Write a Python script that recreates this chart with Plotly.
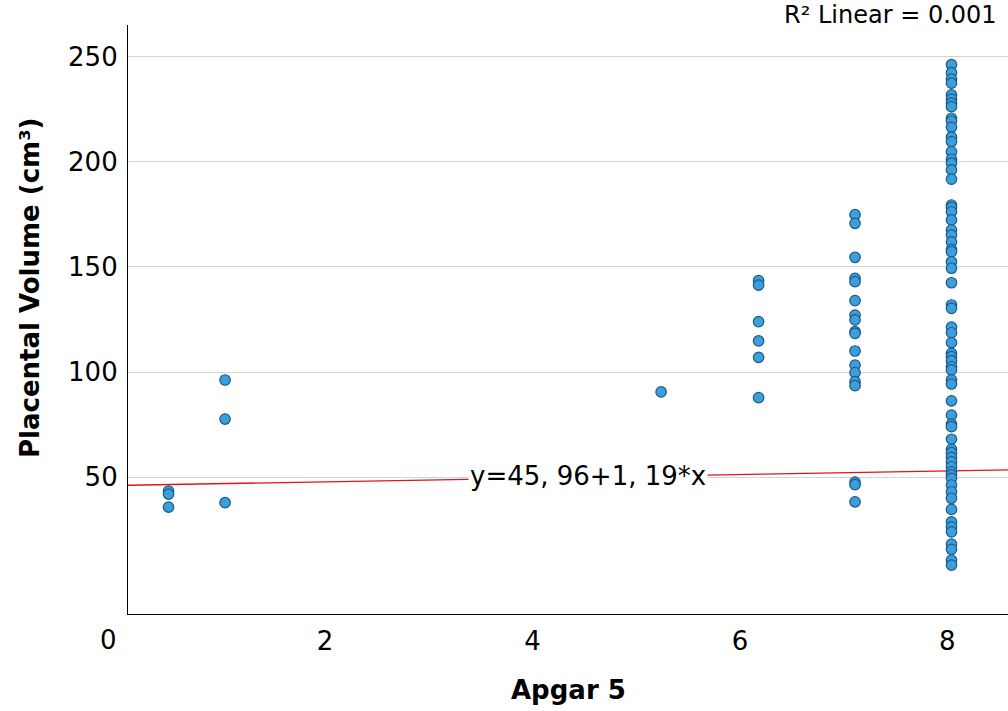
import plotly.graph_objects as go

# Data
apgar_groups = [0.49, 1.035, 5.24, 6.18, 7.11, 8.04]
volumes_g0 = [43.3, 41.9, 35.7]
volumes_g1 = [96.2, 77.6, 37.8]
volumes_g2 = [90.5]
volumes_g3 = [143.5, 141.4, 124.0, 114.8, 107.0, 87.8]
volumes_g4 = [174.9, 170.8, 154.6, 144.6, 143.0, 134.0, 127.1, 124.8, 119.2, 118.4,
              110.0, 103.3, 99.7, 95.4, 93.5, 47.6, 46.4, 38.2]
volumes_g5 = [246.3, 242.5, 239.4, 237.5, 231.9, 229.9, 228.0, 226.3, 220.8, 219.5,
              216.5, 211.8, 209.7, 204.9, 201.3, 199.4, 196.2, 191.8, 179.5, 178.4,
              176.3, 172.4, 167.6, 165.2, 162.0, 158.4, 157.3, 152.5, 149.4, 142.5,
              131.9, 130.3, 121.4, 118.7, 114.0, 108.9, 107.3, 105.4, 102.5, 101.0,
              96.2, 94.3, 86.3, 79.5, 75.2, 74.0, 68.0, 63.2, 61.6, 59.4, 57.3, 54.9,
              52.5, 51.0, 49.4, 46.2, 43.0, 39.9, 34.6, 28.7, 26.3, 23.9, 18.1, 15.6,
              10.5, 8.1]
fit_x = [0.099, 8.585]
fit_y = [46.1, 53.4]
equation_text = "y=45, 96+1, 19*x"
r2_text = "R² Linear = 0.001"
x_ticks = [2, 4, 6, 8]
y_ticks = [50, 100, 150, 200, 250]
x_title = "Apgar 5"
y_title = "Placental Volume (cm³)"

groups = [volumes_g0, volumes_g1, volumes_g2, volumes_g3, volumes_g4, volumes_g5]
xs, ys = [], []
for gx, vals in zip(apgar_groups, groups):
    xs += [gx] * len(vals)
    ys += vals

FONT = "DejaVu Sans"

fig = go.Figure()
fig.add_trace(go.Scatter(
    x=fit_x, y=fit_y, mode="lines",
    line=dict(color="#e3121b", width=1.3), hoverinfo="skip", showlegend=False))
fig.add_trace(go.Scatter(
    x=xs, y=ys, mode="markers",
    marker=dict(size=10.5, color="#3c9fdb", line=dict(color="#1b5a8a", width=1.2)),
    showlegend=False))

fig.update_layout(
    width=1008, height=711,
    margin=dict(l=128, r=0, t=25, b=97),
    paper_bgcolor="white", plot_bgcolor="white",
    font=dict(family=FONT, color="black", size=26),
    xaxis=dict(range=[0.099, 8.585], tickvals=x_ticks, showgrid=False, zeroline=False,
               showline=True, linecolor="black", linewidth=1.2,
               ticks="outside", ticklen=4, tickcolor="rgba(0,0,0,0)",
               tickfont=dict(size=26, family=FONT)),
    yaxis=dict(range=[-15.2, 265.2], tickvals=y_ticks, showgrid=True, gridcolor="#d4d4d4",
               gridwidth=1, zeroline=False, showline=True, linecolor="black", linewidth=1.2,
               ticks="outside", ticklen=4, tickcolor="rgba(0,0,0,0)",
               tickfont=dict(size=26, family=FONT)),
    annotations=[
        dict(text="0", xref="paper", yref="paper", x=(108 - 128) / 880, y=(614 - 640) / 589,
             xanchor="center", yanchor="middle", showarrow=False, font=dict(size=26, family=FONT)),
        dict(text=equation_text, x=4.535, y=50.3, xref="x", yref="y", showarrow=False,
             bgcolor="white", xanchor="center", yanchor="middle",
             font=dict(size=26, family=FONT)),
        dict(text=r2_text, xref="paper", yref="paper", x=(999 - 128) / 880, y=(614 - 15) / 589,
             xanchor="right", yanchor="middle", showarrow=False, font=dict(size=24, family=FONT)),
        dict(text="<b>" + x_title + "</b>", xref="paper", yref="paper", x=0.5, y=(614 - 690) / 589,
             xanchor="center", yanchor="middle", showarrow=False, font=dict(size=26, family=FONT)),
        dict(text="<b>" + y_title + "</b>", xref="paper", yref="paper", x=(30 - 128) / 880,
             y=(614 - 288) / 589,
             xanchor="center", yanchor="middle", textangle=-90, showarrow=False,
             font=dict(size=26, family=FONT)),
    ],
)

fig.write_html("out.html")
